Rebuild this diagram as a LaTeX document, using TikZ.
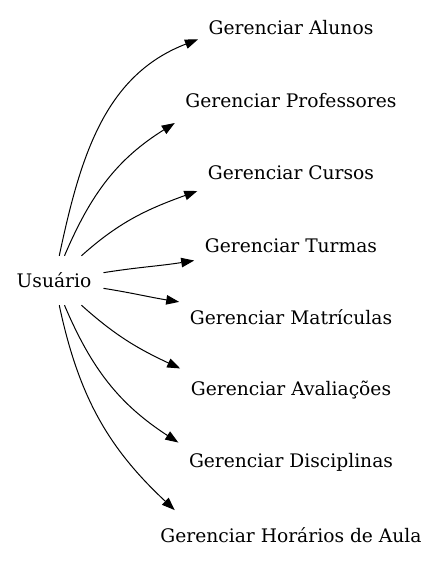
\documentclass[tikz,border=0pt]{standalone}
\usepackage{fontspec}
\setmainfont{DejaVu Serif}
\usetikzlibrary{arrows.meta,positioning}
\tikzset{
  actor/.style={
    rectangle, inner xsep=12pt, inner ysep=0pt, minimum height=49pt,
    font=\fontsize{18.67}{22}\selectfont
  },
  task/.style={
    rectangle, inner xsep=10.5pt, inner ysep=0pt, minimum height=49pt,
    font=\fontsize{18.67}{22}\selectfont
  },
  edge/.style={draw=black, line width=1pt, -{Triangle[length=13pt,width=9.5pt]}}
}

\begin{document}
\begin{tikzpicture}[x=1pt, y=1pt, node distance=23pt]
        \useasboundingbox (0,0) rectangle (439,-563);
        \node[actor] at (54,-280.5)     (u){Usuário};
        \node[task] at (291,-28)        (alunos){Gerenciar Alunos};
        \node[task, below=of alunos]    (profs){Gerenciar Professores};
        \node[task, below=of profs]     (cursos){Gerenciar Cursos};
        \node[task, below=of cursos]    (turmas){Gerenciar Turmas};
        \node[task, below=of turmas]    (matric){Gerenciar Matrículas};
        \node[task, below=of matric]    (aval){Gerenciar Avaliações};
        \node[task, below=of aval]      (disc){Gerenciar Disciplinas};
        \node[task, below=of disc]      (horarios){Gerenciar Horários de Aula};
        \foreach \t/\o/\i/\a in {alunos/78/201/187, profs/67/212/191,
                                 cursos/42/200/191, turmas/9/189/189,
                                 matric/-9/171/172, aval/-42/155/169,
                                 disc/-67/147/170, horarios/-78/137/168.5}
          \draw[edge] (u.\o) to[out=\o, in=\i] (\t.\a);
      \end{tikzpicture}
\end{document}
